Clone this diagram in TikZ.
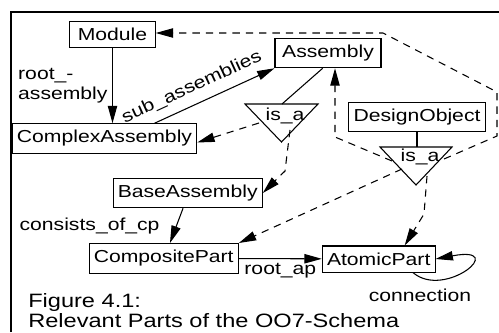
\documentclass[tikz,border=0pt]{standalone}
\usepackage{graphicx}
\usepackage{fontspec}
\setmainfont{Liberation Sans}
\usetikzlibrary{arrows.meta}
\newcommand{\stx}[1]{\scalebox{1.22}[1]{#1}}

\begin{document}
\begin{tikzpicture}[x=0.75pt, y=-0.75pt, font=\fontsize{13}{15}\selectfont,
        cls/.style={draw, line width=0.8pt, inner xsep=3.5pt, inner ysep=5pt},
        ln/.style={line width=0.8pt},
        arr/.style={ln, -{Triangle[length=13pt,width=7pt]}},
        darr/.style={arr, dash pattern=on 5.5pt off 4.5pt}]
    \useasboundingbox (0,0) rectangle (499,332);
    \draw[line width=1.1pt] (11,332) |- (499,12);

    % classes
    \node[cls, minimum width=64pt] (module) at (112.5,34.5) {\stx{Module}};
    \node[cls] (cxasm) at (104.5,138.5) {\stx{ComplexAssembly}};
    \node[cls, minimum width=79.5pt] (asm) at (328,53) {\stx{Assembly}};
    \node[cls] (desobj) at (417,117) {\stx{DesignObject}};
    \node[cls] (baseasm) at (187.7,193) {\stx{BaseAssembly}};
    \node[cls] (comppart) at (163.7,258.3) {\stx{CompositePart}};
    \node[cls] (atompart) at (378.7,259) {\stx{AtomicPart}};

    % is_a triangles
    \draw[ln] (245,104) -- (318,104) -- (281.5,142) -- cycle;
    \node (isaA) at (285,116) {\stx{is\_a}};
    \draw[ln] (380,147) -- (452,147) -- (416,185) -- cycle;
    \node (isaD) at (420,157) {\stx{is\_a}};
    \coordinate (topA) at (282,104);
    \coordinate (topD) at (416,147);
    \draw[ln] ([xshift=-4pt]asm.south) -- (topA);
    \draw[ln] (desobj.south) -- (desobj.south |- topD);

    % relationships
    \draw[arr] (module) -- (module |- cxasm.north)
        node[midway, left, align=left] {\stx{root\_-}\\\stx{assembly}};
    \draw[arr] ([xshift=-32pt]cxasm.north east) -- (asm.south west)
        node[pos=0.37, sloped, above=3pt] {\stx{sub\_assemblies}};
    \draw[arr] ([xshift=-3.5pt]baseasm.south) -- ([xshift=4.7pt]comppart.north)
        node[midway, left=9pt] {\stx{consists\_of\_cp}};
    \draw[arr] (comppart) -- (atompart) node[midway, below] {\stx{root\_ap}};
    \draw[arr] ([xshift=-17pt]atompart.south east) .. controls (445,300) and (510,245) .. (atompart.east);
    \node (conn) at (420,295) {\stx{connection}};

    % inheritance
    \coordinate (a1) at (259,123);
    \coordinate (a2) at (290,130);
    \coordinate (a2b) at (285,171);
    \coordinate (d1) at (444,159);
    \coordinate (d2) at (392,161);
    \coordinate (d3) at (402,169);
    \coordinate (d4) at (427,176);
    \coordinate (d4b) at (424,214);
    \coordinate (m1) at (497,136);
    \coordinate (m2) at (497,92);
    \coordinate (m3) at (383,33);
    \coordinate (s1) at (335,137);
    \draw[darr] (a1) -- ([yshift=-3pt]cxasm.east);
    \draw[darr] (a2) -- (a2b) -- (baseasm.east);
    \draw[darr] (d1) -- (m1) -- (m2) -- (m3) -- (m3 -| module.east);
    \draw[darr] (d2) -- (s1) -- (s1 |- asm.south);
    \draw[darr] (d3) -- (comppart.north east);
    \draw[darr] (d4) -- (d4b) -- ([xshift=19.5pt]atompart.north);

    \node[anchor=north west, align=left, inner sep=0pt,
          font=\fontsize{14.5}{15.5}\selectfont] (caption) at (28,293)
        {\stx{Figure 4.1:}\\\stx{Relevant Parts of the OO7-Schema}};
\end{tikzpicture}
\end{document}
